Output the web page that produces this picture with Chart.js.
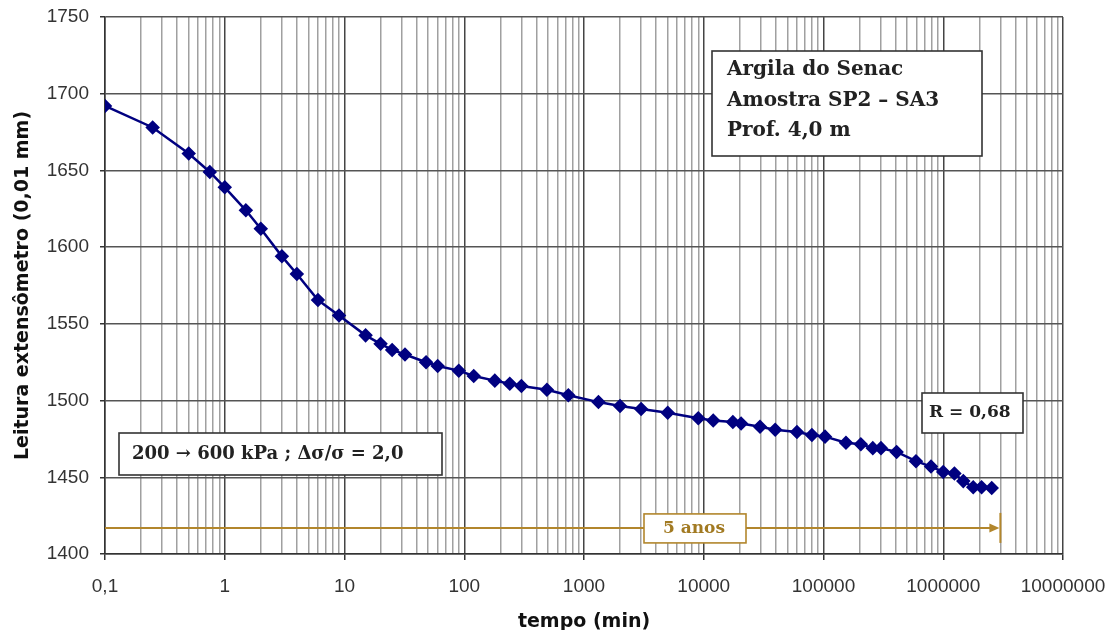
<!DOCTYPE html>
<html>
<head>
<meta charset="utf-8">
<script src="https://cdn.jsdelivr.net/npm/chart.js@4.4.1/dist/chart.umd.min.js"></script>
<style>
  html, body { margin: 0; padding: 0; background: #fff; }
  #wrap { width: 1114px; height: 630px; }
</style>
</head>
<body>
<div id="wrap"><canvas id="recalque"></canvas></div>
<script>
// tempo (min) x leitura do extensometro (0,01 mm)
const tempo = [0.1, 0.25, 0.5, 0.75, 1, 1.5, 2, 3, 4, 6, 9, 15, 20, 25, 32, 48, 60, 90, 120, 180,
    240, 300, 490, 740, 1320, 2000, 3000, 5000, 9000, 12000, 17500, 20500, 29500, 39500, 60000,
    80000, 103000, 154000, 205000, 258000, 302000, 408000, 592000, 790000, 1000000, 1240000,
    1470000, 1780000, 2090000, 2540000];
const leitura = [1692, 1678, 1661, 1649, 1639, 1624, 1612, 1594, 1582.5, 1565.5, 1555.5, 1542.5,
    1537, 1533, 1530, 1525, 1522.5, 1519.5, 1516, 1513, 1511, 1509.5, 1507, 1503.5, 1499, 1496.5,
    1494.5, 1492, 1488.5, 1487, 1486, 1485, 1483, 1481, 1479.5, 1477.5, 1476.5, 1472.5, 1471.5,
    1469, 1469, 1466.5, 1460.5, 1457, 1453.5, 1452.5, 1447.5, 1443.5, 1443.5, 1443];

const decadas = [0.1, 1, 10, 100, 1000, 10000, 100000, 1000000, 10000000];
const rotulosX = ['0,1', '1', '10', '100', '1000', '10000', '100000', '1000000', '10000000'];

// seta de 5 anos
const periodoX = [0.1, 3000000];
const periodoY = 1417;

const corSerie = '#000080';
const corPeriodo = '#b2862c';
const fonteCaixa = '"DejaVu Serif"';

function caixaTexto(ctx, x, y, w, h, borda) {
    ctx.save();
    ctx.fillStyle = '#fff';
    ctx.fillRect(x, y, w, h);
    ctx.strokeStyle = borda;
    ctx.lineWidth = 1.6;
    ctx.strokeRect(x, y, w, h);
    ctx.restore();
}

const anotacoes = {
    id: 'anotacoes',
    afterDatasetsDraw(chart) {
        const ctx = chart.ctx;
        const sx = chart.scales.x, sy = chart.scales.y;
        const a = chart.chartArea;

        // linha de 5 anos com seta e barra final
        const x0 = sx.getPixelForValue(periodoX[0]);
        const x1 = sx.getPixelForValue(periodoX[1]);
        const yp = sy.getPixelForValue(periodoY);
        ctx.save();
        ctx.strokeStyle = corPeriodo;
        ctx.fillStyle = corPeriodo;
        ctx.lineWidth = 2;
        ctx.beginPath();
        ctx.moveTo(x0, yp);
        ctx.lineTo(x1 - 6, yp);
        ctx.stroke();
        ctx.beginPath();
        ctx.moveTo(x1 - 1, yp);
        ctx.lineTo(x1 - 11, yp - 4.5);
        ctx.lineTo(x1 - 11, yp + 4.5);
        ctx.closePath();
        ctx.fill();
        ctx.beginPath();
        ctx.moveTo(x1, yp - 15);
        ctx.lineTo(x1, yp + 15);
        ctx.stroke();
        ctx.restore();

        ctx.save();
        ctx.textBaseline = 'middle';

        // 5 anos
        caixaTexto(ctx, a.left + 539, yp - 14, 102, 29, corPeriodo);
        ctx.fillStyle = '#a27a22';
        ctx.font = 'bold 17px ' + fonteCaixa;
        ctx.fillText('5 anos', a.left + 558, yp + 1);

        // dados da amostra
        caixaTexto(ctx, a.left + 607, a.top + 34, 270, 105, '#333');
        ctx.fillStyle = '#222';
        ctx.font = 'bold 20px ' + fonteCaixa;
        ctx.fillText('Argila do Senac', a.left + 622, a.top + 53);
        ctx.fillText('Amostra SP2 \u2013 SA3', a.left + 622, a.top + 84);
        ctx.fillText('Prof. 4,0 m', a.left + 622, a.top + 114);

        // carregamento
        caixaTexto(ctx, a.left + 14, a.top + 416, 323, 42, '#333');
        ctx.font = 'bold 18px ' + fonteCaixa;
        ctx.fillText('200 \u2192 600 kPa ; \u0394\u03c3/\u03c3 = 2,0', a.left + 27, a.top + 437);

        // R
        caixaTexto(ctx, a.left + 817, a.top + 376, 101, 40, '#333');
        ctx.font = 'bold 17px ' + fonteCaixa;
        ctx.fillText('R = 0,68', a.left + 824, a.top + 396);
        ctx.restore();
    }
};

const ctx = document.getElementById('recalque');

new Chart(ctx, {
    type: 'line',
    data: {
        datasets: [{
            label: 'Leitura',
            data: tempo.map((t, i) => ({ x: t, y: leitura[i] })),
            borderColor: corSerie,
            backgroundColor: corSerie,
            borderWidth: 2.5,
            pointStyle: 'rectRot',
            pointRadius: 5.5,
            pointHoverRadius: 5.5,
            tension: 0,
            fill: false
        }]
    },
    options: {
        responsive: true,
        maintainAspectRatio: false,
        animation: false,
        layout: { padding: { top: 17, right: 51, left: 0, bottom: 0 } },
        plugins: {
            legend: { display: false },
            tooltip: { enabled: false }
        },
        scales: {
            x: {
                type: 'logarithmic',
                min: 0.1,
                max: 10000000,
                afterBuildTicks: scale => {
                    const ticks = [];
                    decadas.forEach((d, i) => {
                        ticks.push({ value: d, major: true });
                        if (i < decadas.length - 1) {
                            for (let m = 2; m <= 9; m++) ticks.push({ value: d * m, major: false });
                        }
                    });
                    scale.ticks = ticks;
                },
                afterFit: scale => {
                    scale.height = 76;
                    scale.paddingLeft = 0;
                    scale.paddingRight = 0;
                },
                ticks: {
                    autoSkip: false,
                    maxRotation: 0,
                    minRotation: 0,
                    padding: 15,
                    color: '#333',
                    font: { family: '"Liberation Sans"', size: 19 },
                    callback: function (value, index, ticks) {
                        const t = ticks[index];
                        return t.major ? rotulosX[decadas.indexOf(t.value)] : '';
                    }
                },
                grid: {
                    color: c => (c.tick && c.tick.major) ? '#444' : '#a0a0a0',
                    lineWidth: 1.5,
                    tickLength: 6,
                    tickColor: c => (c.tick && c.tick.major) ? '#333' : 'rgba(0,0,0,0)'
                },
                border: { color: '#333', width: 1.5 },
                title: {
                    display: true,
                    text: 'tempo (min)',
                    color: '#111',
                    font: { family: '"DejaVu Sans"', size: 19, weight: 'bold' },
                    padding: { top: 0, bottom: -3 }
                }
            },
            y: {
                min: 1400,
                max: 1750,
                afterFit: scale => {
                    scale.width = 105;
                    scale.paddingTop = 0;
                    scale.paddingBottom = 0;
                },
                ticks: {
                    stepSize: 50,
                    padding: 11,
                    color: '#333',
                    font: { family: '"Liberation Sans"', size: 19 },
                    callback: v => String(v)
                },
                grid: {
                    color: '#555',
                    lineWidth: 1.5,
                    tickLength: 5,
                    tickColor: '#333'
                },
                border: { color: '#333', width: 1.5 },
                title: {
                    display: true,
                    text: 'Leitura extensômetro (0,01 mm)',
                    color: '#111',
                    font: { family: '"DejaVu Sans"', size: 19, weight: 'bold' },
                    padding: { top: 12, bottom: 0 }
                }
            }
        }
    },
    plugins: [anotacoes]
});
</script>
</body>
</html>
